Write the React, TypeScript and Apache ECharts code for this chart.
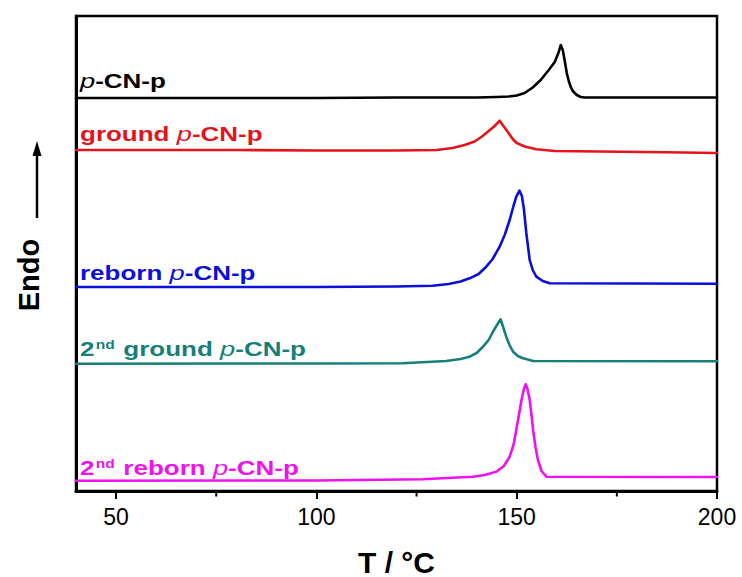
import React, { useEffect, useRef } from "react";
import * as echarts from "echarts";

const X_MIN = 40;
const X_MAX = 200;
const X_TICKS = [50, 100, 150, 200];
const X_MINOR = [75, 125, 175];

const T_PCNP = [40, 60, 100, 120, 140, 145, 148, 150, 152, 154, 156, 158, 159.5, 160.5, 161, 161.5, 162, 162.5, 163, 163.5, 164, 165, 166, 167, 180, 200];
const V_PCNP = [393, 393, 393, 393.5, 393.5, 394, 394.5, 395.5, 398, 403.5, 411, 421, 429, 439, 446, 441, 430, 418, 410, 404, 400, 396, 394, 393.5, 393.5, 393.5];

const T_GROUND = [40, 80, 100, 120, 130, 134, 137, 139.5, 141.5, 143, 144.5, 145.75, 146.5, 147.75, 149, 150, 152, 154.9, 159.5, 187, 200];
const V_GROUND = [341, 341, 340.5, 340.5, 341, 343, 346, 349.5, 355, 360, 365, 370.3, 366, 359.3, 352, 348, 344.5, 341.7, 340, 338.7, 338];

const T_REBORN = [40, 80, 100, 120, 129, 133, 136, 138.25, 140.5, 142.4, 144, 145.75, 147, 148.25, 149.2, 149.9, 150.7, 151.3, 151.8, 152.4, 153.25, 154, 154.9, 156.5, 158.25, 200];
const V_REBORN = [204, 204, 204, 204.5, 205.3, 207, 209.5, 212.7, 217, 224.3, 232, 244.3, 256, 271, 285, 294.3, 300.3, 295, 282, 258, 231, 221, 214.3, 210, 207.7, 207.3];

const T_GROUND2 = [40, 100, 121.5, 132.4, 136, 138.25, 140, 141.6, 143, 144.1, 145, 146, 146.7, 147.4, 148.2, 149.1, 150.3, 151.6, 154.1, 200];
const V_GROUND2 = [127.3, 127.5, 127.7, 130, 132, 134.3, 138, 144.3, 151, 159.3, 165.5, 171.7, 163, 154.3, 146, 139.3, 135, 132.7, 130, 129.7];

const T_REBORN2 = [40, 100, 126.5, 139, 142, 144.9, 146.8, 148.25, 149.2, 149.9, 150.6, 151.2, 151.8, 152.25, 152.7, 153.25, 153.7, 154.1, 154.7, 155.3, 156.2, 157.4, 200];
const V_REBORN2 = [10.3, 10.5, 11.7, 14.3, 16, 19.3, 25, 34.3, 46, 61, 77, 91, 102, 106.7, 102, 91, 76, 61, 44, 31, 20, 14.3, 14];

const SERIES = [
  { name: "p-CN-p", color: "#000000", t: T_PCNP, v: V_PCNP, label: "{i|p}{n|-CN-p}", gap: 17 },
  { name: "ground p-CN-p", color: "#e3141c", t: T_GROUND, v: V_GROUND, label: "{n|ground }{i|p}{n|-CN-p}", gap: 16 },
  { name: "reborn p-CN-p", color: "#0a10d8", t: T_REBORN, v: V_REBORN, label: "{n|reborn }{i|p}{n|-CN-p}", gap: 14 },
  { name: "2nd ground p-CN-p", color: "#167f7a", t: T_GROUND2, v: V_GROUND2, label: "{n|2}{s|nd}{n| ground }{i|p}{n|-CN-p}", gap: 15 },
  { name: "2nd reborn p-CN-p", color: "#ee12ee", t: T_REBORN2, v: V_REBORN2, label: "{n|2}{s|nd}{n| reborn }{i|p}{n|-CN-p}", gap: 13 },
];

const FONT = "'Liberation Sans', Arial, Helvetica, sans-serif";

export default function App() {
  const ref = useRef<HTMLDivElement>(null);
  useEffect(() => {
    if (!ref.current) return;
    const chart = echarts.init(ref.current, null, { renderer: "svg" });
    const option: any = {
      animation: false,
      backgroundColor: "#ffffff",
      grid: {
        left: 76,
        right: 25,
        top: 16,
        bottom: 86,
        containLabel: false,
        outerBoundsMode: "none",
        show: true,
        borderColor: "#000",
        borderWidth: 2.5,
        backgroundColor: "transparent",
      },
      xAxis: {
        type: "value",
        min: X_MIN,
        max: X_MAX,
        splitLine: { show: false },
        axisLine: { show: true, onZero: false, lineStyle: { color: "#000", width: 3 } },
        axisTick: { show: true, inside: false, length: 8, customValues: X_TICKS, lineStyle: { color: "#000", width: 2 } },
        axisLabel: { customValues: X_TICKS, color: "#000", fontSize: 23, fontFamily: FONT, margin: 14 },
        name: "T / °C",
        nameLocation: "middle",
        nameGap: 56,
        nameTextStyle: { color: "#000", fontSize: 30, fontWeight: "bold", fontFamily: FONT },
      },
      yAxis: {
        type: "value",
        min: 0,
        max: 475,
        splitLine: { show: false },
        axisLine: { show: true, onZero: false, lineStyle: { color: "#000", width: 3 } },
        axisTick: { show: false },
        axisLabel: { show: false },
      },
      series: SERIES.map((s) => ({
        type: "line",
        name: s.name,
        data: s.t.map((t, i) => [t, s.v[i]]),
        showSymbol: false,
        smooth: false,
        lineStyle: { color: s.color, width: 2.6, join: "round", cap: "round" },
        itemStyle: { color: s.color },
      })),
    };
    chart.setOption(option);

    const graphics: any[] = [];
    SERIES.forEach((s) => {
      const p = chart.convertToPixel({ gridIndex: 0 }, [s.t[0], s.v[0]]) as number[];
      const base = { fill: s.color, fontFamily: FONT, fontWeight: "bold", fontSize: 20 };
      graphics.push({
        type: "text",
        x: p[0] + 4,
        y: p[1] - s.gap,
        scaleX: 1.3,
        z: 10,
        style: {
          text: s.label,
          verticalAlign: "middle",
          align: "left",
          fill: s.color,
          fontFamily: FONT,
          fontSize: 20,
          fontWeight: "bold",
          rich: {
            n: { ...base, color: s.color },
            i: { ...base, color: s.color, fontStyle: "italic", fontWeight: "normal", fontSize: 21 },
            s: { fill: s.color, color: s.color, fontFamily: FONT, fontWeight: "bold", fontSize: 12, verticalAlign: "top", padding: [0, 1, 8, 1] },
          },
        },
      });
    });
    // minor ticks on the bottom axis
    X_MINOR.forEach((t) => {
      const p = chart.convertToPixel({ gridIndex: 0 }, [t, 0]) as number[];
      graphics.push({
        type: "line",
        shape: { x1: p[0], y1: p[1], x2: p[0], y2: p[1] + 5.5 },
        style: { stroke: "#000", lineWidth: 2 },
      });
    });
    // Endo arrow and label
    graphics.push({
      type: "line",
      shape: { x1: 37, y1: 218, x2: 37, y2: 152 },
      style: { stroke: "#000", lineWidth: 2.5 },
    });
    graphics.push({
      type: "polygon",
      shape: { points: [[37, 141], [32.5, 156], [41.5, 156]] },
      style: { fill: "#000" },
    });
    graphics.push({
      type: "text",
      x: 29,
      y: 275,
      rotation: Math.PI / 2,
      style: {
        text: "Endo",
        align: "center",
        verticalAlign: "middle",
        fill: "#000",
        fontFamily: FONT,
        fontWeight: "bold",
        fontSize: 29,
      },
    });
    chart.setOption({ graphic: graphics });

    return () => chart.dispose();
  }, []);
  return <div ref={ref} style={{ width: 742, height: 577, position: "absolute", left: 0, top: 0 }} />;
}
